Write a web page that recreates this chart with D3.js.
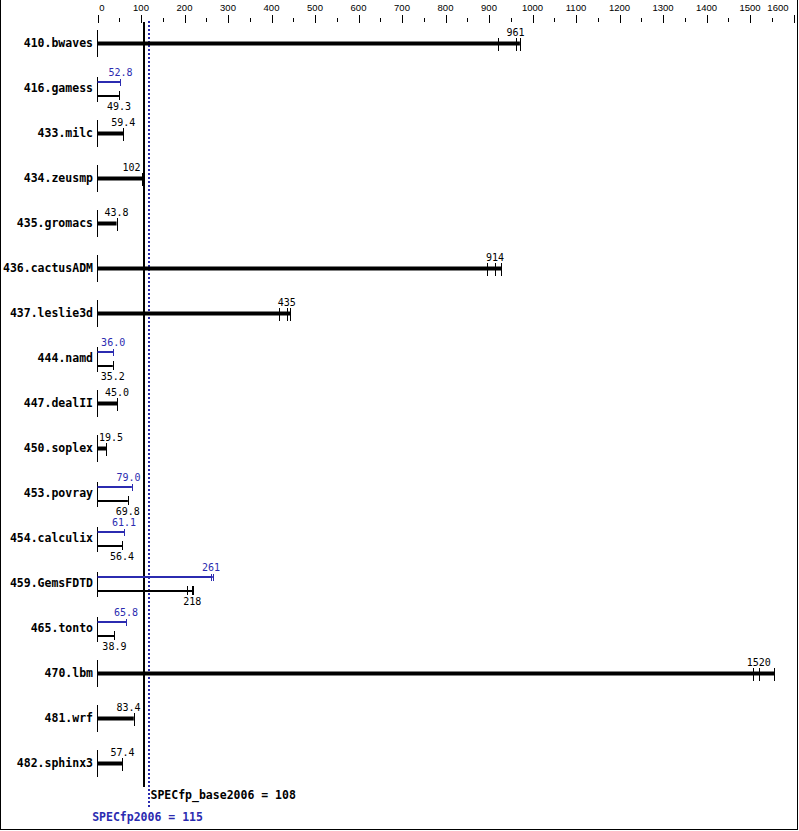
<!DOCTYPE html>
<html><head><meta charset="utf-8">
<script src="https://cdn.jsdelivr.net/npm/d3@7"></script>
<style>body{margin:0;background:#fff}svg{display:block}</style>
</head><body>
<script>
const categories = ["410.bwaves","416.gamess","433.milc","434.zeusmp","435.gromacs","436.cactusADM","437.leslie3d","444.namd","447.dealII","450.soplex","453.povray","454.calculix","459.GemsFDTD","465.tonto","470.lbm","481.wrf","482.sphinx3"];
const baseLabels = ["961","49.3","59.4","102","43.8","914","435","35.2","45.0","19.5","69.8","56.4","218","38.9","1520","83.4","57.4"];
const baseMedian = [961,49.3,59.4,102,43.8,914,435,35.2,45.0,19.5,69.8,56.4,218,38.9,1520,83.4,57.4];
const baseRuns = [[921,961,971],[49.3],[59.4],[102,104],[43.8],[896,914,928],[417,435,443],[35.2],[45.0],[19.5],[69.8],[56.4],[205,218,219],[38.9],[1507,1520,1556],[83.4],[57.4]];
const peakLabels = [null,"52.8",null,null,null,null,null,"36.0",null,null,"79.0","61.1","261","65.8",null,null,null];
const peakMedian = [null,52.8,null,null,null,null,null,36.0,null,null,79.0,61.1,261,65.8,null,null,null];
const peakRuns = [null,[52.8],null,null,null,null,null,[36.0],null,null,[79.0],[61.1],[261,265],[65.8],null,null,null];
const tickValues = [0,100,200,300,400,500,600,700,800,900,1000,1100,1200,1300,1400,1500,1600];
const minorTickValues = [50,150,250,350,450,550,650,750,850,950,1050,1150,1250,1350,1450,1550];
const baseScore = 108, peakScore = 115;
const baseScoreLabel = "SPECfp_base2006 = 108", peakScoreLabel = "SPECfp2006 = 115";

const W = 799, H = 831;
const BLUE = "#2b2bb0";
const mono = "'DejaVu Sans Mono', monospace";
const svg = d3.select("body").append("svg").attr("width", W).attr("height", H);

// border (left, right, bottom)
svg.append("path").attr("d", `M0.5,0 V829.5 H797.5 V0`).attr("fill","none").attr("stroke","#000").attr("stroke-width",1).attr("shape-rendering","crispEdges");

const x = d3.scaleLinear().domain([0,1600]).range([97.5, 793.5]);
const y = d3.scalePoint().domain(categories).range([43, 763]);

// axis
const axG = svg.append("g").attr("transform","translate(0,23)");
axG.call(d3.axisTop(x).tickValues(tickValues).tickSize(8).tickFormat(""))
  .call(g => g.select(".domain").remove());
axG.append("g").call(d3.axisTop(x).tickValues(minorTickValues).tickSize(4).tickFormat(""))
  .attr("transform","translate(0,-1)")
  .call(g => g.select(".domain").remove());
axG.selectAll("line").attr("stroke","#000").attr("shape-rendering","crispEdges");
svg.append("g").selectAll("text").data(tickValues).join("text")
  .attr("x", (d,i) => i === 0 ? x(d) + 4.5 : (i === tickValues.length-1 ? x(d) - 5 : x(d)))
  .attr("y", 11)
  .attr("text-anchor", (d,i) => i === tickValues.length-1 ? "end" : "middle")
  .attr("font-family","'Liberation Sans', Arial, sans-serif").attr("font-size", 9.5)
  .attr("fill","#000").text(d => d);

// reference lines
const bx = Math.round(x(baseScore)), px = Math.round(x(peakScore)) + 1;
svg.append("line").attr("x1", bx).attr("x2", bx).attr("y1", 22).attr("y2", 787)
  .attr("stroke","#000").attr("stroke-width",2).attr("shape-rendering","crispEdges");
svg.append("line").attr("x1", px).attr("x2", px).attr("y1", 21).attr("y2", 807)
  .attr("stroke",BLUE).attr("stroke-width",2).attr("stroke-dasharray","2,2").attr("shape-rendering","crispEdges");
svg.append("text").attr("x", x(baseScore)+6).attr("y", 795+4).attr("font-family",mono).attr("font-weight","bold")
  .attr("font-size",11.5).attr("fill","#000").text(baseScoreLabel);
svg.append("text").attr("x", x(peakScore)).attr("y", 817+4).attr("text-anchor","middle").attr("font-family",mono).attr("font-weight","bold")
  .attr("font-size",11.5).attr("fill",BLUE).text(peakScoreLabel);

const numFS = 10, charW = 6.02;
function valueLabel(g, median, label, cy, color) {
  const cx = x(median);
  const half = label.length * charW / 2;
  let anchor = "middle", tx = cx;
  const limit = x(baseScore) - 4;
  if (cx + half > limit && cx - half < x(peakScore) + 4) { anchor = "end"; tx = limit; }
  else if (cx - half < x(0) + 1.5) { anchor = "start"; tx = x(0) + 1.5; }
  g.append("text").attr("x", tx).attr("y", cy + 3.6).attr("text-anchor", anchor)
    .attr("font-family", mono).attr("font-size", numFS).attr("fill", color).text(label);
}

const rows = svg.append("g");
categories.forEach((cat, i) => {
  const c = y(cat);
  const g = rows.append("g");
  g.append("text").attr("x", 93).attr("y", c + 4).attr("text-anchor","end")
    .attr("font-family", mono).attr("font-weight","bold").attr("font-size",11.5).attr("fill","#000").text(cat);
  const hasPeak = peakMedian[i] !== null;
  if (!hasPeak) {
    g.append("line").attr("x1", x(0)).attr("x2", x(0)).attr("y1", c-13).attr("y2", c+14)
      .attr("stroke","#000").attr("stroke-width",1).attr("shape-rendering","crispEdges");
    const mx = d3.max(baseRuns[i]);
    g.append("rect").attr("x", x(0)).attr("y", c-1.5).attr("width", x(mx)-x(0)).attr("height", 4).attr("fill","#000");
    g.selectAll(".t").data(baseRuns[i]).join("line").attr("x1", d => Math.round(x(d))+0.5).attr("x2", d => Math.round(x(d))+0.5)
      .attr("y1", c-5).attr("y2", c+8).attr("stroke","#000").attr("stroke-width",1).attr("shape-rendering","crispEdges");
    valueLabel(g, baseMedian[i], baseLabels[i], c-11, "#000");
  } else {
    g.append("line").attr("x1", x(0)).attr("x2", x(0)).attr("y1", c-11).attr("y2", c+14)
      .attr("stroke","#000").attr("stroke-width",1).attr("shape-rendering","crispEdges");
    const pmx = d3.max(peakRuns[i]);
    g.append("rect").attr("x", x(0)).attr("y", c-7).attr("width", x(pmx)-x(0)).attr("height", 2).attr("fill",BLUE);
    g.selectAll(".p").data(peakRuns[i]).join("line").attr("x1", d => Math.round(x(d))+0.5).attr("x2", d => Math.round(x(d))+0.5)
      .attr("y1", c-9.5).attr("y2", c-2).attr("stroke",BLUE).attr("stroke-width",1).attr("shape-rendering","crispEdges");
    const bmx = d3.max(baseRuns[i]);
    g.append("rect").attr("x", x(0)).attr("y", c+7).attr("width", x(bmx)-x(0)).attr("height", 2).attr("fill","#000");
    g.append("g").selectAll("line").data(baseRuns[i]).join("line").attr("x1", d => Math.round(x(d))+0.5).attr("x2", d => Math.round(x(d))+0.5)
      .attr("y1", c+3).attr("y2", c+12).attr("stroke","#000").attr("stroke-width",1).attr("shape-rendering","crispEdges");
    valueLabel(g, peakMedian[i], peakLabels[i], c-16, BLUE);
    valueLabel(g, baseMedian[i], baseLabels[i], c+18, "#000");
  }
});
</script>
</body></html>
